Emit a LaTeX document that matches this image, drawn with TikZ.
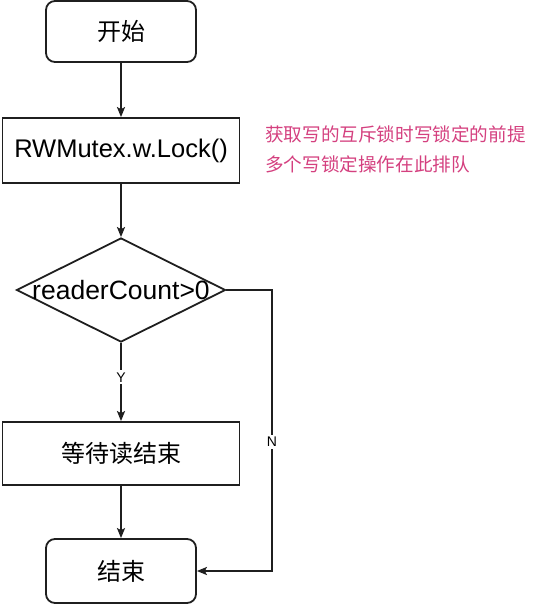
\documentclass[tikz,border=0pt]{standalone}
\usepackage{fontspec}
\setmainfont{Liberation Sans}
\newfontfamily\cjk{Noto Sans CJK SC}
\usetikzlibrary{shapes.geometric,arrows.meta}
\definecolor{notepink}{HTML}{D4407F}
\tikzset{
  x=1pt,y=1pt,
  flowline/.style={line width=1.8pt,draw=black!88},
  arr/.style={flowline,-{Stealth[length=10pt,width=8pt,inset=2pt]}},
  termbox/.style={draw=black!88,line width=1.8pt,rounded corners=9pt,minimum width=150pt,inner sep=0pt,font=\cjk\fontsize{24}{28}\selectfont},
  procbox/.style={draw=black!88,line width=1.8pt,minimum width=237pt,inner sep=0pt},
  decbox/.style={draw=black!88,line width=1.8pt,diamond,aspect=2,minimum width=209pt,minimum height=104pt,inner sep=0pt},
  edgelabel/.style={fill=white,inner sep=2pt,font=\fontsize{14}{16}\selectfont},
  note/.style={text=notepink,anchor=west,inner sep=0pt,font=\cjk\fontsize{18.6}{22}\selectfont}
}
\begin{document}
\begin{tikzpicture}
\useasboundingbox (0,0) rectangle (540,-605);
\node[termbox,minimum height=61pt] (start) at (121,-31.5) {开始};
\node[procbox,minimum height=65pt,font=\fontsize{25.5}{30}\selectfont] (lock) at (121,-150.5) {RWMutex.w.Lock()};
\node[decbox] (dec) at (121,-290) {};
\node[inner sep=0pt,font=\fontsize{26.5}{30}\selectfont] (dectext) at (121,-290) {readerCount>0};
\node[procbox,minimum height=63pt,font=\cjk\fontsize{24}{28}\selectfont] (wait) at (121,-453.5) {等待读结束};
\node[termbox,minimum height=64pt] (end) at (121,-571) {结束};
\node[note] (note1) at (265,-134) {获取写的互斥锁时写锁定的前提};
\node[note] (note2) at (265,-164) {多个写锁定操作在此排队};
\draw[arr] (start.south) -- (lock.north);
\draw[arr] (lock.south) -- (dec.north);
\draw[arr] (dec.south) -- node[edgelabel,pos=0.44] (ylab) {Y} (wait.north);
\draw[arr] (wait.south) -- (end.north);
\coordinate (ncorner) at (272,-290);
\draw[arr] (dec.east) -- (ncorner) -- node[edgelabel,pos=0.54] (nlab) {N} (ncorner |- end.east) -- (end.east);
\end{tikzpicture}
\end{document}
